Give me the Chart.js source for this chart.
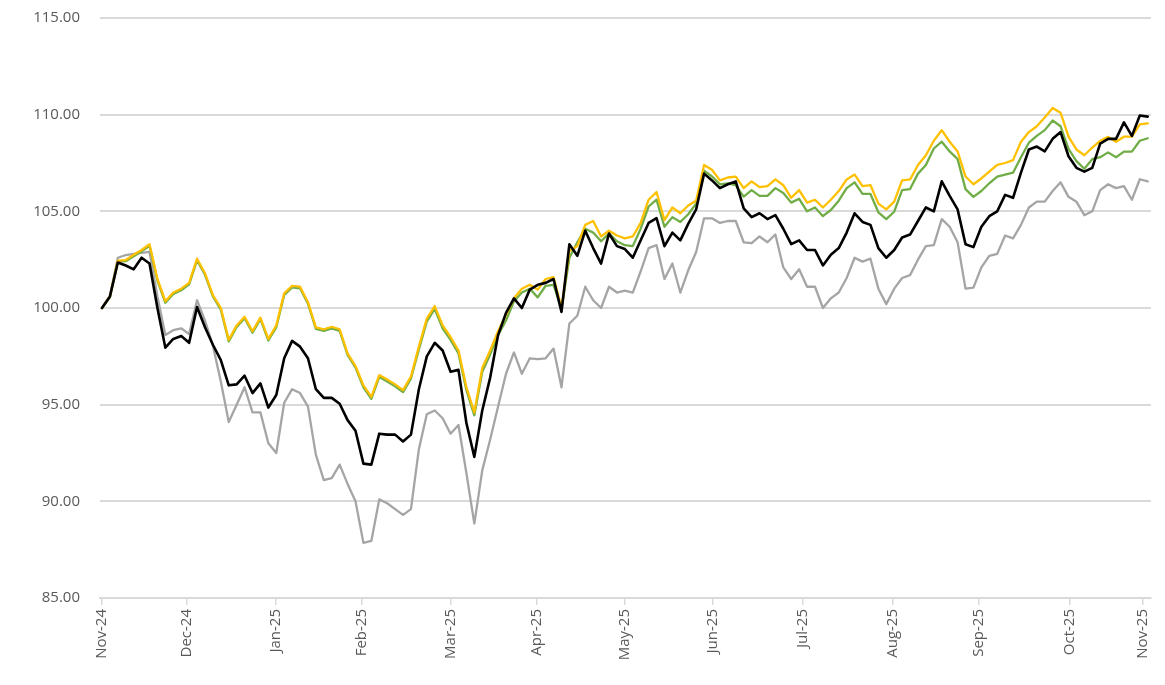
<!DOCTYPE html>
<html lang="en">
<head>
    <meta charset="UTF-8">
    <title>Index performance Nov-24 to Nov-25</title>
    <script src="https://cdn.jsdelivr.net/npm/chart.js"></script>
    <style>
        body { margin: 0; padding: 0; background: #ffffff; }
        #wrap { width: 1165px; height: 685px; }
    </style>
</head>
<body>
<div id="wrap"><canvas id="chart" width="1165" height="685"></canvas></div>
<script>
    // month ticks, positions are in sample index units (one sample ~ two trading days)
    const monthLabels = ["Nov-24", "Dec-24", "Jan-25", "Feb-25", "Mar-25", "Apr-25", "May-25",
                         "Jun-25", "Jul-25", "Aug-25", "Sep-25", "Oct-25", "Nov-25"];
    const monthPos = [0, 10.7, 21.96, 32.75, 44.0, 54.9, 66.0, 77.1, 88.4, 99.8, 110.7, 122.1, 131.4];

    const blackSeries = [
        100.0, 100.6, 102.35, 102.2, 102.0, 102.6, 102.3, 100.0, 97.95, 98.4,
        98.55, 98.2, 100.05, 99.0, 98.1, 97.3, 96.0, 96.05, 96.5, 95.6,
        96.1, 94.85, 95.5, 97.4, 98.3, 98.0, 97.4, 95.8, 95.35, 95.35,
        95.05, 94.2, 93.65, 91.95, 91.9, 93.5, 93.45, 93.45, 93.1, 93.45,
        95.8, 97.5, 98.2, 97.8, 96.7, 96.8, 94.05, 92.3, 94.7, 96.4,
        98.6, 99.75, 100.5, 100.0, 100.95, 101.2, 101.3, 101.5, 99.8, 103.3,
        102.7, 104.0, 103.1, 102.3, 103.85, 103.2, 103.05, 102.6, 103.5, 104.4,
        104.65, 103.2, 103.9, 103.5, 104.35, 105.1, 106.95, 106.6, 106.2, 106.4,
        106.55, 105.15, 104.7, 104.9, 104.6, 104.8, 104.1, 103.3, 103.5, 103.0,
        103.0, 102.2, 102.75, 103.1, 103.9, 104.9, 104.45, 104.3, 103.1, 102.6,
        103.0, 103.65, 103.8, 104.5, 105.2, 105.0, 106.55, 105.8, 105.1, 103.3,
        103.15, 104.2, 104.75, 105.0, 105.85, 105.7, 107.0, 108.2, 108.35, 108.1,
        108.75, 109.1, 107.85, 107.25, 107.05, 107.25, 108.5, 108.75, 108.75, 109.6,
        108.9, 109.96, 109.9
    ];
    const greySeries = [
        100.0, 100.6, 102.6, 102.74, 102.8, 102.85, 102.9, 100.6, 98.6, 98.85,
        98.95, 98.65, 100.4, 99.35, 98.05, 96.2, 94.1, 95.0, 95.9, 94.6,
        94.6, 93.0, 92.5, 95.1, 95.8, 95.6, 94.9, 92.4, 91.1, 91.2,
        91.9, 90.9, 90.0, 87.85, 87.95, 90.1, 89.9, 89.6, 89.3, 89.6,
        92.7, 94.5, 94.7, 94.3, 93.5, 93.95, 91.45, 88.85, 91.6, 93.2,
        94.9, 96.6, 97.7, 96.6, 97.4, 97.35, 97.4, 97.9, 95.9, 99.2,
        99.6, 101.1, 100.4, 100.0, 101.1, 100.8, 100.9, 100.8, 101.9, 103.1,
        103.25, 101.5, 102.3, 100.8, 101.95, 102.9, 104.64, 104.64, 104.4, 104.5,
        104.5, 103.4, 103.35, 103.7, 103.4, 103.8, 102.1, 101.5, 102.0, 101.1,
        101.1, 100.0, 100.5, 100.8, 101.55, 102.6, 102.4, 102.55, 101.0, 100.2,
        101.0, 101.55, 101.7, 102.5, 103.2, 103.25, 104.6, 104.2, 103.4, 101.0,
        101.05, 102.1, 102.7, 102.8, 103.75, 103.6, 104.3, 105.2, 105.5, 105.5,
        106.05, 106.5, 105.75, 105.5, 104.8, 105.0, 106.1, 106.4, 106.2, 106.3,
        105.6, 106.66, 106.55
    ];
    const greenSeries = [
        100.0, 100.55, 102.4, 102.42, 102.68, 102.93, 103.22, 101.42, 100.27, 100.72,
        100.92, 101.22, 102.47, 101.72, 100.6, 99.92, 98.27, 99.02, 99.47, 98.72,
        99.42, 98.32, 99.0, 100.68, 101.07, 101.02, 100.22, 98.92, 98.82, 98.95,
        98.82, 97.57, 96.92, 95.9, 95.3, 96.43, 96.2, 95.95, 95.65, 96.35,
        97.85, 99.3, 99.95, 98.95, 98.35, 97.65, 95.75, 94.45, 96.7, 97.6,
        98.6, 99.35, 100.35, 100.8, 101.0, 100.55, 101.15, 101.2, 99.95, 102.6,
        103.4, 104.1, 103.9, 103.45, 103.85, 103.45, 103.25, 103.2, 104.1, 105.25,
        105.6, 104.2, 104.7, 104.45, 104.85, 105.4, 107.1, 106.8, 106.4, 106.45,
        106.35, 105.76, 106.1, 105.8, 105.8, 106.2, 105.95, 105.45, 105.65, 105.0,
        105.2, 104.75, 105.07, 105.55, 106.2, 106.5, 105.9, 105.9, 104.95, 104.6,
        104.98, 106.1, 106.15, 106.95, 107.4, 108.25, 108.6, 108.1, 107.7, 106.15,
        105.75, 106.05, 106.45, 106.8, 106.9, 107.0, 107.8, 108.55, 108.9, 109.2,
        109.7, 109.4, 108.23, 107.6, 107.2, 107.7, 107.8, 108.05, 107.8, 108.09,
        108.09, 108.65, 108.78
    ];
    const yellowSeries = [
        100.0, 100.6, 102.45, 102.48, 102.75, 103.0, 103.3, 101.5, 100.35, 100.8,
        101.0, 101.3, 102.55, 101.8, 100.67, 100.0, 98.35, 99.1, 99.55, 98.8,
        99.5, 98.4, 99.1, 100.76, 101.15, 101.1, 100.3, 99.0, 98.9, 99.03,
        98.9, 97.65, 97.0, 96.0, 95.4, 96.53, 96.3, 96.05, 95.75, 96.45,
        98.0, 99.45, 100.1, 99.1, 98.5, 97.8, 95.9, 94.6, 96.9, 97.8,
        98.8, 99.65, 100.5, 101.0, 101.2, 100.95, 101.5, 101.6, 100.0, 102.95,
        103.2, 104.3, 104.5, 103.7, 104.0, 103.75, 103.6, 103.7, 104.4, 105.6,
        106.0, 104.55, 105.2, 104.9, 105.3, 105.55, 107.4, 107.15, 106.6, 106.75,
        106.8, 106.2, 106.55, 106.25, 106.3, 106.65, 106.35, 105.7, 106.1, 105.45,
        105.6, 105.2, 105.6, 106.05, 106.65, 106.9, 106.3, 106.36, 105.4, 105.1,
        105.5, 106.6, 106.65, 107.4, 107.9, 108.65, 109.2, 108.6, 108.1, 106.8,
        106.4, 106.7, 107.05, 107.4, 107.5, 107.65, 108.6, 109.1, 109.4, 109.85,
        110.35, 110.1, 108.86, 108.2, 107.9, 108.3, 108.65, 108.85, 108.6, 108.86,
        108.86, 109.5, 109.55
    ];

    const yTicks = [85, 90, 95, 100, 105, 110, 115];

    function toPoints(arr) {
        return arr.map((v, i) => ({ x: i, y: v }));
    }

    const tickFont = { family: "'Open Sans', sans-serif", size: 15 };

    new Chart(document.getElementById("chart"), {
        type: "line",
        data: {
            datasets: [
                { label: "Black", data: toPoints(blackSeries), borderColor: "#000000", borderWidth: 2.6 },
                { label: "Yellow", data: toPoints(yellowSeries), borderColor: "#ffc000", borderWidth: 2.3 },
                { label: "Green", data: toPoints(greenSeries), borderColor: "#70ad47", borderWidth: 2.3 },
                { label: "Grey", data: toPoints(greySeries), borderColor: "#a5a5a5", borderWidth: 2.3 }
            ]
        },
        options: {
            responsive: false,
            animation: false,
            layout: { padding: { top: 18, right: 4, bottom: 0, left: 0 } },
            elements: {
                point: { radius: 0 },
                line: { tension: 0, borderJoinStyle: "round", borderCapStyle: "round" }
            },
            plugins: { legend: { display: false }, tooltip: { enabled: false } },
            scales: {
                x: {
                    type: "linear",
                    min: -0.25,
                    max: 132.4,
                    afterBuildTicks: (scale) => {
                        scale.ticks = monthPos.map(v => ({ value: v }));
                    },
                    afterFit: (scale) => { scale.height = 87; },
                    grid: { drawOnChartArea: false, drawTicks: true, tickLength: 7, color: "#d9d9d9", lineWidth: 1.5 },
                    border: { display: true, color: "#d9d9d9", width: 2 },
                    ticks: {
                        autoSkip: false,
                        maxRotation: 90,
                        minRotation: 90,
                        padding: 4,
                        color: "#595959",
                        font: tickFont,
                        callback: (value, index) => monthLabels[index]
                    }
                },
                y: {
                    min: 85,
                    max: 115,
                    afterBuildTicks: (scale) => {
                        scale.ticks = yTicks.map(v => ({ value: v }));
                    },
                    afterFit: (scale) => {
                        scale.width = 100;
                        scale.paddingTop = 0;
                        scale.paddingBottom = 0;
                    },
                    grid: { color: "#d9d9d9", lineWidth: 2, drawTicks: false },
                    border: { display: false },
                    ticks: {
                        padding: 20,
                        color: "#595959",
                        font: tickFont,
                        callback: (value) => Number(value).toFixed(2)
                    }
                }
            }
        }
    });
</script>
</body>
</html>
